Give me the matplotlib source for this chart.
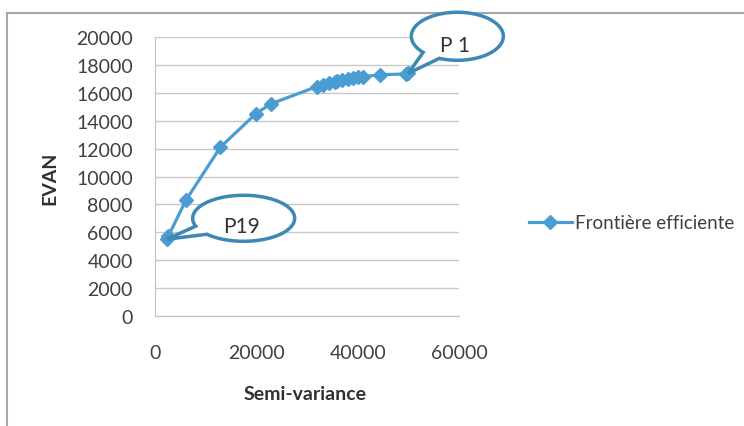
import numpy as np
import matplotlib
matplotlib.use('Agg')
import matplotlib.pyplot as plt
from matplotlib.patches import Polygon

plt.rcParams['font.family'] = ['Lato', 'DejaVu Sans']

# frontière efficiente, de P1 (en haut à droite) à P19 (en bas à gauche)
semi_variance = [50000, 49500, 44500, 41000, 40000, 39000, 38000, 37000, 36000,
                 35500, 34300, 33200, 32000, 22800, 19900, 12900, 6100, 2600, 2300]
evan = [17400, 17350, 17300, 17150, 17100, 17050, 17000, 16950, 16870,
        16800, 16700, 16550, 16450, 15200, 14500, 12100, 8300, 5700, 5500]
x_ticks = [0, 20000, 40000, 60000]
y_ticks = list(range(0, 20001, 2000))

W, H = 744, 427
fig = plt.figure(figsize=(W / 100, H / 100), dpi=100)
ax = fig.add_axes([155 / W, 1 - 317 / H, (459 - 155) / W, (317 - 38) / H])

blue = '#4b9cd3'
ax.plot(semi_variance, evan, color=blue, lw=2.3, marker='D', ms=7,
        mec=blue, mfc=blue, label='Frontière efficiente', zorder=3)

ax.set_xlim(0, 60000)
ax.set_ylim(0, 20000)
ax.set_xticks(x_ticks)
ax.set_yticks(y_ticks)
ax.grid(axis='y', color='#c8c8c8', lw=1)
ax.set_axisbelow(True)
for s in ['top', 'right']:
    ax.spines[s].set_visible(False)
for s in ['left', 'bottom']:
    ax.spines[s].set_color('#c0c0c0')
ax.tick_params(axis='both', length=0, labelsize=14, labelcolor='#404040')
ax.tick_params(axis='y', pad=16)
ax.tick_params(axis='x', pad=20)

fig.text(50 / W, 1 - 178 / H, 'EVAN', rotation=90, ha='center', va='center',
         fontsize=14, fontweight='bold', color='#303030')
fig.text(305 / W, 1 - 395 / H, 'Semi-variance', ha='center', va='center',
         fontsize=14, fontweight='bold', color='#303030')

fig.legend(loc='center left', bbox_to_anchor=(512 / W, 1 - 224 / H), frameon=False,
           fontsize=13.5, handlelength=2.3, handletextpad=0.15, labelcolor='#404040')

# cadre autour du graphique
fig.add_artist(plt.Line2D([7 / W, 1], [1 - 14 / H, 1 - 14 / H], color='#a8a8a8', lw=1.5))
fig.add_artist(plt.Line2D([7 / W, 7 / W], [0, 1 - 14 / H], color='#a8a8a8', lw=1.5))


def bulle(idx, label, off, a, b, t1, t2, txt_off):
    # bulle ovale avec une pointe vers le point idx
    tip = ax.transData.transform((semi_variance[idx], evan[idx]))
    c = tip + np.array(off)
    t = np.radians(np.linspace(t1, t2 + 360, 120))
    pts = np.column_stack([c[0] + a * np.cos(t), c[1] + b * np.sin(t)])
    pts = np.vstack([pts, tip])
    pts = fig.transFigure.inverted().transform(pts)
    fig.add_artist(Polygon(pts, closed=True, fc='white', ec='#3f87b4', lw=2.5,
                           transform=fig.transFigure, zorder=5))
    tp = fig.transFigure.inverted().transform(c + np.array(txt_off))
    fig.text(tp[0], tp[1], label, ha='center', va='center', fontsize=15,
             color='#333333', zorder=6)


bulle(0, 'P 1', (49, 37), 46, 24, 247, 222, (-2, -9))
bulle(-1, 'P19', (77, 21), 51, 23, 224, 200, (-2, -8))

fig.savefig('out.png', dpi=100)
